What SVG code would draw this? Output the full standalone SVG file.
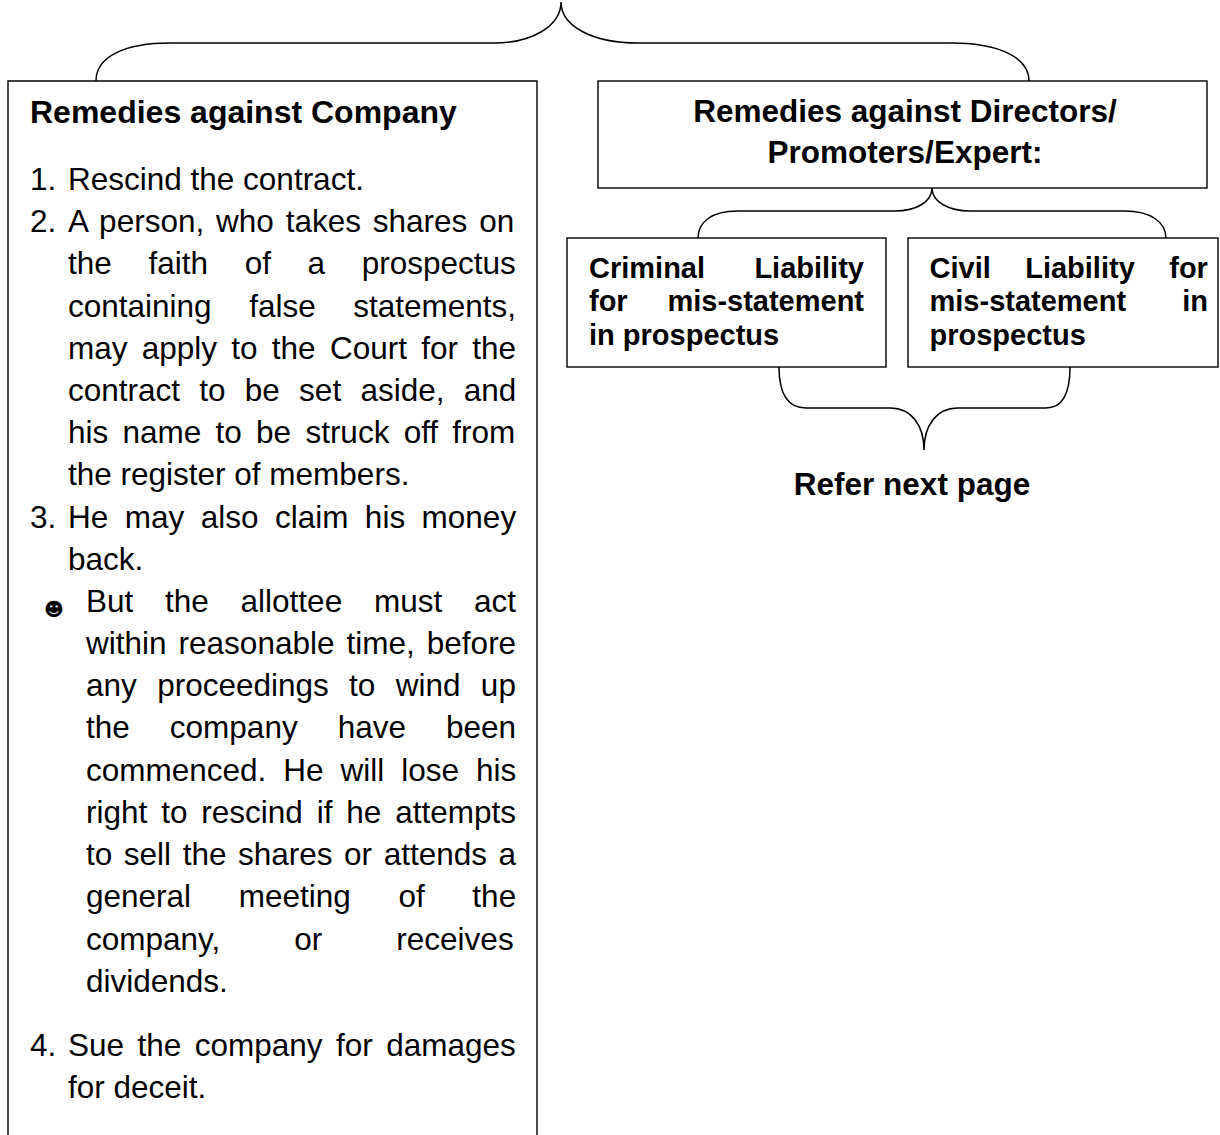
<svg xmlns="http://www.w3.org/2000/svg" width="1220" height="1135" viewBox="0 0 1220 1135">
<style>
.box{fill:none;stroke:#000;stroke-width:1.4}
.br{fill:none;stroke:#000;stroke-width:1.5}
.r{font-family:"Liberation Sans",Arial,sans-serif;font-size:31.5px;fill:#000}
.b{font-family:"Liberation Sans",Arial,sans-serif;font-size:31.5px;font-weight:bold;fill:#000}
.bs{font-family:"Liberation Sans",Arial,sans-serif;font-size:29px;font-weight:bold;fill:#000}
.sym{font-family:"DejaVu Sans",sans-serif;font-size:19px;fill:#000}
</style>
<rect width="1220" height="1135" fill="#fff"/>
<g id="connectors">
<path class="br" d="M96,81 C96,56 126,43 170,43 L494,43 C532,43 561,26 561,2 C561,26 592,43 638,43 L951,43 C996,43 1029,56 1029,81"/>
<path class="br" d="M698,238 C698,222 712,211 737,211 L895,211 C916,211 932,202 932,188 C932,202 949,211 970,211 L1125,211 C1150,211 1166,222 1166,238"/>
<path class="br" d="M779,367 C779,395 788,408 806,408 L890,408 C912,408 924,426 924,450 C924,426 936,408 958,408 L1046,408 C1062,408 1070,395 1070,367"/>
</g>
<g id="company">
<path class="box" d="M8,1140 V81 H537 V1140"/>
<text class="b" x="30" y="123" style="font-size:32px">Remedies against Company</text>
<text class="r" x="30" y="190">1.</text>
<text class="r" x="68" y="190">Rescind the contract.</text>
<text class="r" x="30" y="232">2.</text>
<text class="r" x="68" y="232" style="word-spacing:3.1px">A person, who takes shares on</text>
<text class="r" x="68" y="274" style="word-spacing:27.9px">the faith of a prospectus</text>
<text class="r" x="68" y="317" style="word-spacing:28.8px">containing false statements,</text>
<text class="r" x="68" y="359" style="word-spacing:5.5px">may apply to the Court for the</text>
<text class="r" x="68" y="401" style="word-spacing:10.5px">contract to be set aside, and</text>
<text class="r" x="68" y="443" style="word-spacing:5.5px">his name to be struck off from</text>
<text class="r" x="68" y="485">the register of members.</text>
<text class="r" x="30" y="528">3.</text>
<text class="r" x="68" y="528" style="word-spacing:7.7px">He may also claim his money</text>
<text class="r" x="68" y="570">back.</text>
<text class="sym" x="44" y="616">☻</text>
<text class="r" x="86" y="612" style="word-spacing:23px">But the allottee must act</text>
<text class="r" x="86" y="654" style="word-spacing:3.3px">within reasonable time, before</text>
<text class="r" x="86" y="696" style="word-spacing:11.6px">any proceedings to wind up</text>
<text class="r" x="86" y="738" style="word-spacing:31.3px">the company have been</text>
<text class="r" x="86" y="781" style="word-spacing:8.2px">commenced. He will lose his</text>
<text class="r" x="86" y="823" style="word-spacing:5.1px">right to rescind if he attempts</text>
<text class="r" x="86" y="865" style="word-spacing:2.8px">to sell the shares or attends a</text>
<text class="r" x="86" y="907" style="word-spacing:38.9px">general meeting of the</text>
<text class="r" x="86" y="950" style="word-spacing:65.3px">company, or receives</text>
<text class="r" x="86" y="992">dividends.</text>
<text class="r" x="30" y="1056">4.</text>
<text class="r" x="68" y="1056" style="word-spacing:4.7px">Sue the company for damages</text>
<text class="r" x="68" y="1098">for deceit.</text>
</g>
<g id="directors">
<rect class="box" x="598" y="81" width="609" height="107"/>
<text class="b" x="905" y="122" text-anchor="middle">Remedies against Directors/</text>
<text class="b" x="905" y="163" text-anchor="middle">Promoters/Expert:</text>
</g>
<g id="criminal">
<rect class="box" x="567" y="238" width="319" height="129"/>
<text class="bs" x="589" y="278" style="word-spacing:41.3px">Criminal Liability</text>
<text class="bs" x="589" y="311" style="word-spacing:31.7px">for mis-statement</text>
<text class="bs" x="589" y="345">in prospectus</text>
</g>
<g id="civil">
<rect class="box" x="908" y="238" width="310" height="129"/>
<text class="bs" x="929.5" y="278" style="word-spacing:26.4px">Civil Liability for</text>
<text class="bs" x="929.5" y="311" style="word-spacing:48.1px">mis-statement in</text>
<text class="bs" x="929.5" y="345">prospectus</text>
</g>
<g id="refer">
<text class="b" x="912" y="495" text-anchor="middle">Refer next page</text>
</g>
</svg>
